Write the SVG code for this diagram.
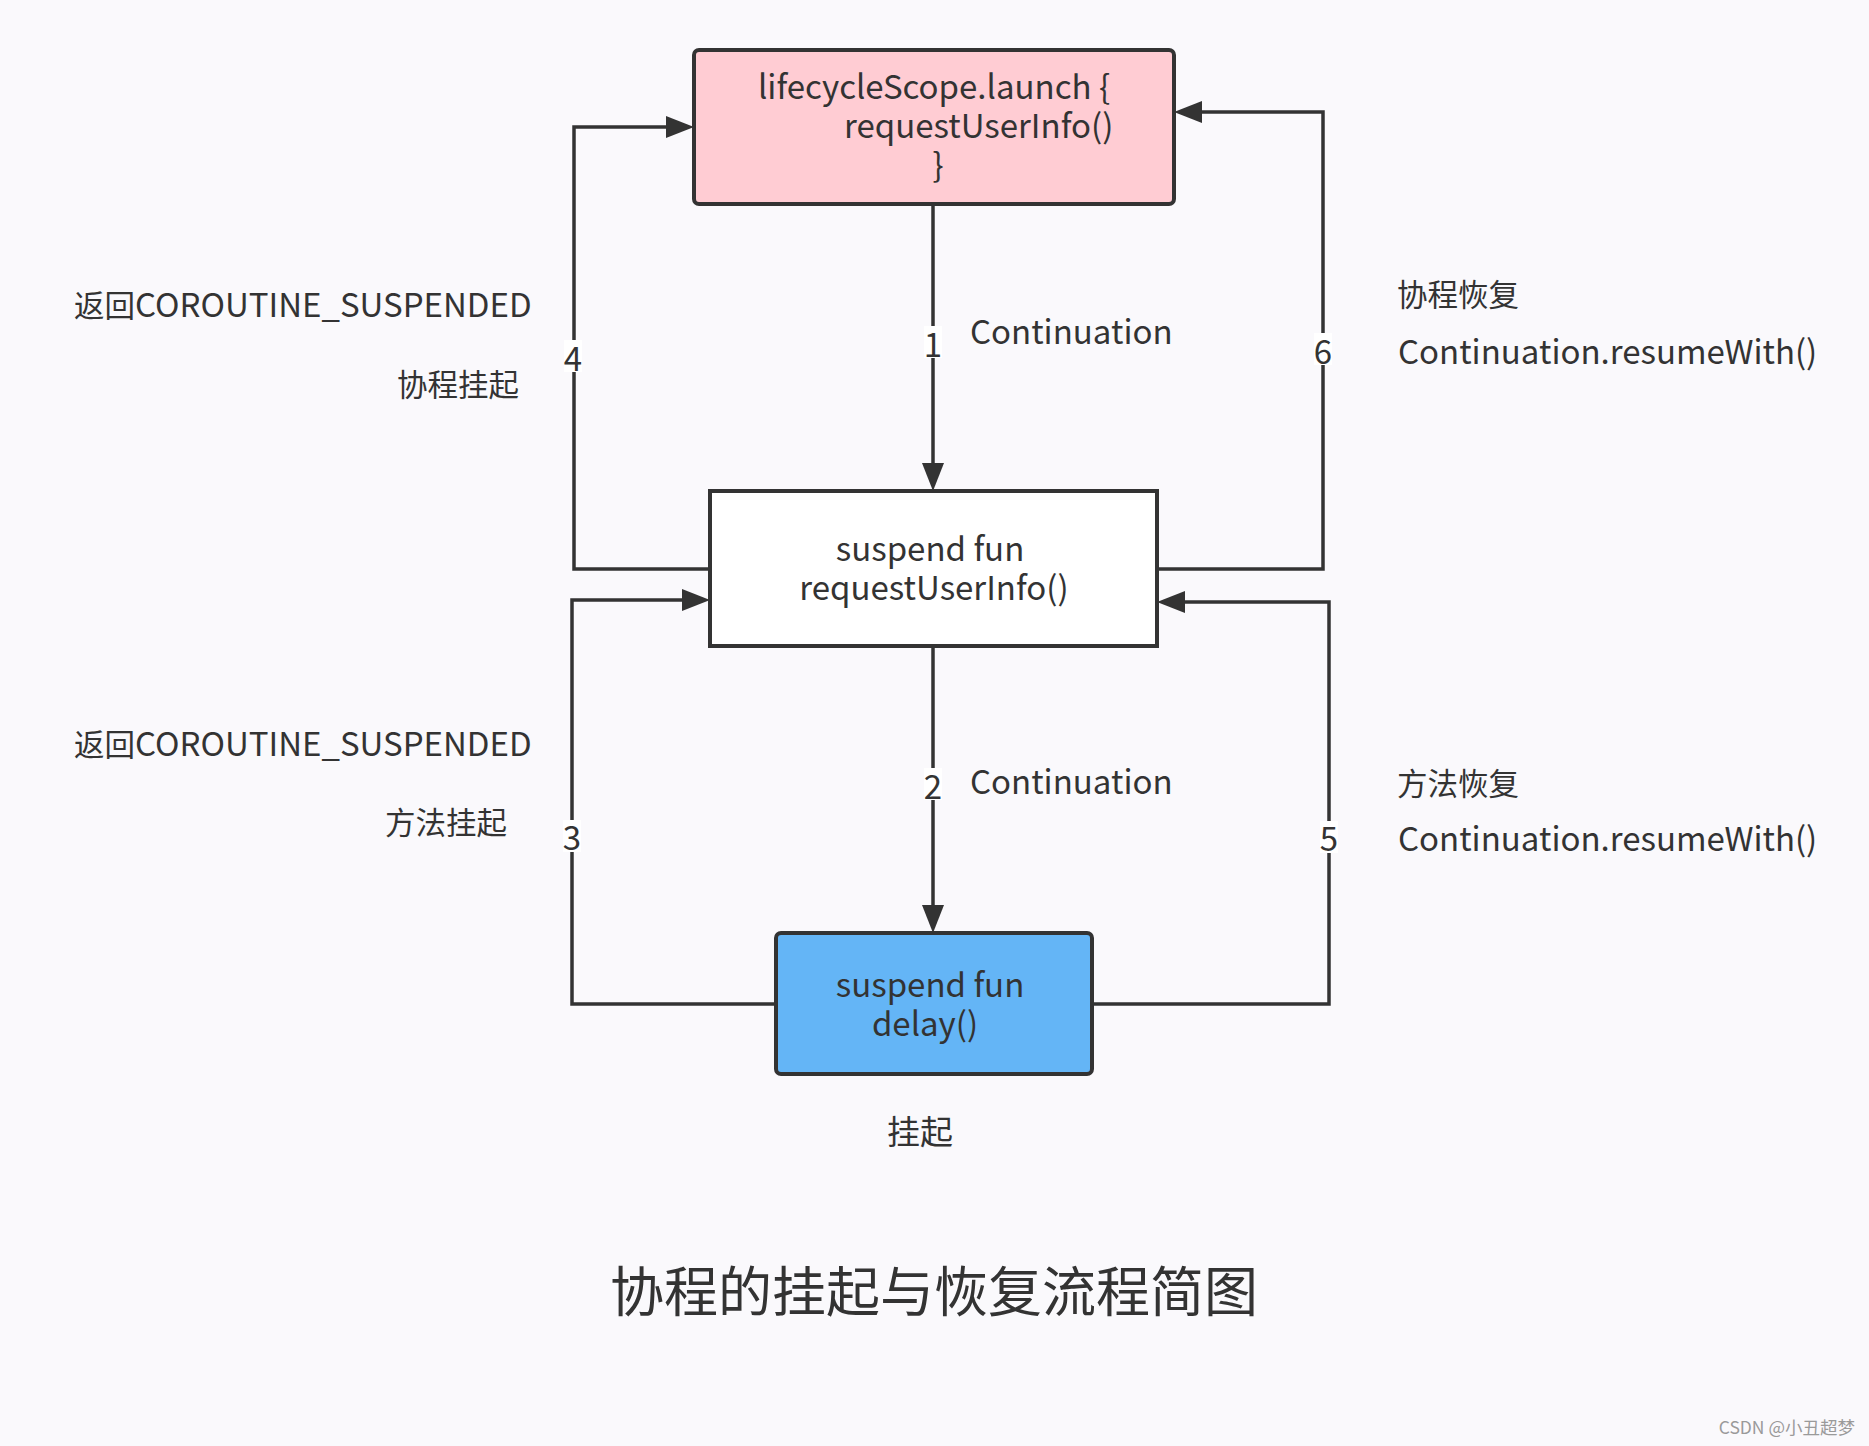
<svg xmlns="http://www.w3.org/2000/svg" width="1869" height="1446" viewBox="0 0 1869 1446">
<style>
text{font-family:"Noto Sans CJK SC","Noto Sans",sans-serif;fill:#333333;}
.t{font-size:33px;}
.cj{font-size:30.5px;}
.c{text-anchor:middle;}
.num{font-size:33px;text-anchor:middle;}
.lbg{fill:#ffffff;}
.box{stroke:#333333;stroke-width:4;}
.conn{fill:none;stroke:#333333;stroke-width:3.5;marker-end:url(#arr);}
</style>
<defs>
<marker id="arr" markerUnits="userSpaceOnUse" markerWidth="28" markerHeight="22" refX="23" refY="11" orient="auto">
<path d="M0,0 L28,11 L0,22 z" fill="#333333"/>
</marker>
</defs>
<rect width="1869" height="1446" fill="#faf9fc"/>
<g id="connectors">
<path class="conn" d="M933,204 V486"/>
<path class="conn" d="M933,646 V928"/>
<path class="conn" d="M710,569 H574 V127 H689"/>
<path class="conn" d="M1157,569 H1323 V112 H1179"/>
<path class="conn" d="M776,1004 H572 V600 H705"/>
<path class="conn" d="M1092,1004 H1329 V602 H1162"/>
<rect class="lbg" x="924" y="326" width="18" height="32"/>
<text class="num" x="933" y="357">1</text>
<rect class="lbg" x="924" y="768" width="18" height="32"/>
<text class="num" x="933" y="799">2</text>
<rect class="lbg" x="563" y="820" width="18" height="32"/>
<text class="num" x="572" y="850">3</text>
<rect class="lbg" x="564" y="340" width="18" height="32"/>
<text class="num" x="573" y="371">4</text>
<rect class="lbg" x="1320" y="821" width="18" height="32"/>
<text class="num" x="1329" y="851">5</text>
<rect class="lbg" x="1314" y="333" width="18" height="32"/>
<text class="num" x="1323" y="364">6</text>
</g>
<g id="node-launch">
<rect class="box" x="694" y="50" width="480" height="154" rx="5" fill="#ffccd3"/>
<text class="t c" x="934" y="99">lifecycleScope.launch {</text>
<text class="t" x="844" y="138">requestUserInfo()</text>
<text class="t c" x="938" y="177">}</text>
</g>
<g id="node-request">
<rect class="box" x="710" y="491" width="447" height="155" fill="#ffffff"/>
<text class="t c" x="930" y="561">suspend fun</text>
<text class="t c" x="934" y="600">requestUserInfo()</text>
</g>
<g id="node-delay">
<rect class="box" x="776" y="933" width="316" height="141" rx="5" fill="#64b5f6"/>
<text class="t c" x="930" y="997">suspend fun</text>
<text class="t c" x="925" y="1036">delay()</text>
</g>
<g id="labels">
<text class="t" x="970" y="344">Continuation</text>
<text class="t" x="970" y="794">Continuation</text>
<text class="t" x="74" y="317"><tspan class="cj">返回</tspan>COROUTINE_SUSPENDED</text>
<text class="cj" x="519" y="396" text-anchor="end">协程挂起</text>
<text class="t" x="74" y="756"><tspan class="cj">返回</tspan>COROUTINE_SUSPENDED</text>
<text class="cj" x="507" y="834" text-anchor="end">方法挂起</text>
<text class="cj" x="1397" y="306">协程恢复</text>
<text class="t" x="1398" y="364">Continuation.resumeWith()</text>
<text class="cj" x="1397" y="795">方法恢复</text>
<text class="t" x="1398" y="851">Continuation.resumeWith()</text>
<text class="t c" x="920" y="1144" font-size="32">挂起</text>
<text x="934" y="1312" font-size="54" text-anchor="middle">协程的挂起与恢复流程简图</text>
<text x="1855" y="1434" font-size="17.5" text-anchor="end" style="fill:#9a9a9a">CSDN @小丑超梦</text>
</g>
</svg>
